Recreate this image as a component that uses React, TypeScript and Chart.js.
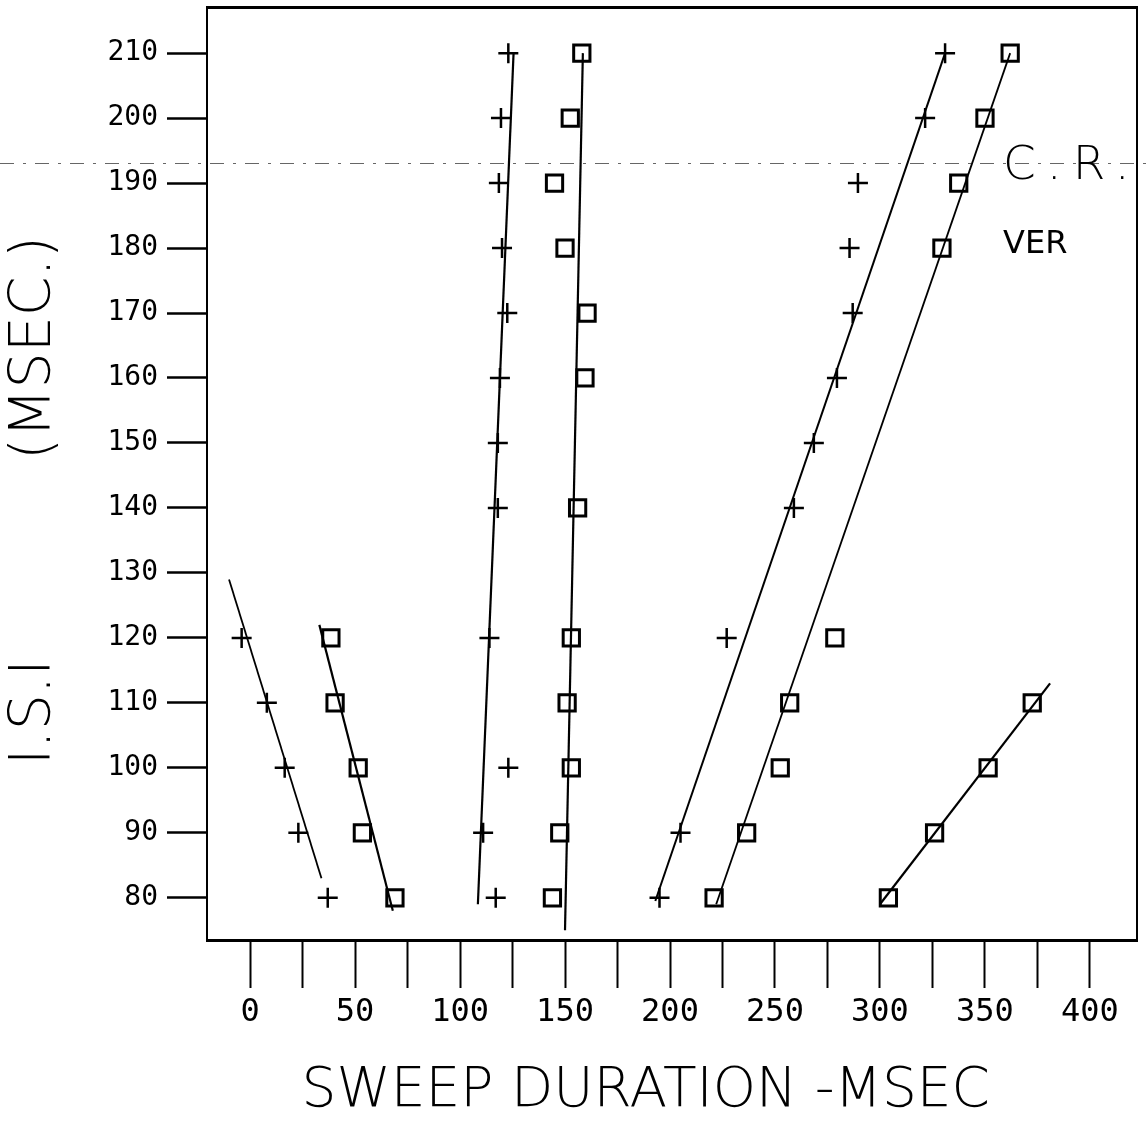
import React, { useEffect, useRef } from 'react';
import { Chart, registerables } from 'chart.js';

Chart.register(...registerables);

// ---- axis ticks ----
const isiTicks = [80, 90, 100, 110, 120, 130, 140, 150, 160, 170, 180, 190, 200, 210];
const sweepTicks = [0, 25, 50, 75, 100, 125, 150, 175, 200, 225, 250, 275, 300, 325, 350, 375, 400];
const sweepLabels = [0, 50, 100, 150, 200, 250, 300, 350, 400];

// ---- group A: crosses, descending (left) ----
const crossA_isi = [120, 110, 100, 90, 80];
const crossA_sweep = [-4, 8, 16.5, 23, 37];
const lineA_isi = [129, 83];
const lineA_sweep = [-10, 34];

// ---- group B: squares, descending ----
const squareB_isi = [120, 110, 100, 90, 80];
const squareB_sweep = [38.5, 40.5, 51.5, 53.5, 69];
const lineB_isi = [122, 78];
const lineB_sweep = [33, 68];

// ---- group C: crosses, near-vertical ~120 ----
const crossC_isi = [210, 200, 190, 180, 170, 160, 150, 140, 120, 100, 90, 80];
const crossC_sweep = [123, 119.5, 118.5, 120, 122.5, 119, 118, 118, 114, 123, 111, 117];
const lineC_isi = [79, 210];
const lineC_sweep = [108.5, 125.5];

// ---- group D: squares, near-vertical ~150 ----
const squareD_isi = [210, 200, 190, 180, 170, 160, 140, 120, 110, 100, 90, 80];
const squareD_sweep = [158, 152.5, 145, 150, 160.5, 159.5, 156, 153, 151, 153, 147.5, 144];
const lineD_isi = [75, 210];
const lineD_sweep = [150, 158.5];

// ---- group E: crosses, ascending ----
const crossE_isi = [210, 200, 190, 180, 170, 160, 150, 140, 120, 90, 80];
const crossE_sweep = [331, 321.5, 289.5, 285.5, 287, 279.5, 268.5, 259, 227, 205, 195];
const lineE_isi = [79.5, 210];
const lineE_sweep = [193, 331];

// ---- group F: squares, ascending ----
const squareF_isi = [210, 200, 190, 180, 120, 110, 100, 90, 80];
const squareF_sweep = [362, 350, 337.5, 329.5, 278.5, 257, 252.5, 236.5, 221];
const lineF_isi = [79, 210];
const lineF_sweep = [222, 362];

// ---- group G: squares, bottom right ----
const squareG_isi = [110, 100, 90, 80];
const squareG_sweep = [372.5, 351.5, 326, 304];
const lineG_isi = [79, 113];
const lineG_sweep = [300, 381];

// ---- annotations ----
const annotationTexts = ['C.R.', 'VER'];
const scanLineIsi = 193.1;

const X_MIN = -20.5;
const X_MAX = 422.4;
const Y_MIN = 73.5;
const Y_MAX = 217.1;

const pts = (xs: number[], ys: number[]) => xs.map((x, i) => ({ x, y: ys[i] }));

const crossSet = (label: string, xs: number[], ys: number[]) => ({
  label,
  data: pts(xs, ys),
  showLine: false,
  pointStyle: 'cross',
  pointRadius: 10,
  pointBorderWidth: 2.5,
  pointBorderColor: '#000',
  borderColor: '#000',
  backgroundColor: '#000',
});

const squareSet = (label: string, xs: number[], ys: number[]) => ({
  label,
  data: pts(xs, ys),
  showLine: false,
  pointStyle: 'rect',
  pointRadius: 11.5,
  pointBorderWidth: 3,
  pointBorderColor: '#000',
  pointBackgroundColor: 'rgba(0,0,0,0)',
  borderColor: '#000',
  backgroundColor: 'rgba(0,0,0,0)',
});

const lineSet = (label: string, xs: number[], ys: number[], w = 2) => ({
  label,
  data: pts(xs, ys),
  showLine: true,
  pointRadius: 0,
  borderWidth: w,
  borderColor: '#000',
  backgroundColor: '#000',
});

const annotationPlugin = {
  id: 'annotations',
  beforeDatasetsDraw(chart: any) {
    const { ctx, scales } = chart;
    const y = Math.round(scales.y.getPixelForValue(scanLineIsi)) + 0.5;
    ctx.save();
    ctx.strokeStyle = '#666';
    ctx.lineWidth = 1;
    ctx.setLineDash([14, 9, 3, 9]);
    ctx.beginPath();
    ctx.moveTo(0, y);
    ctx.lineTo(chart.width, y);
    ctx.stroke();
    ctx.restore();
  },
  afterDatasetsDraw(chart: any) {
    const { ctx, scales } = chart;
    ctx.save();
    ctx.fillStyle = '#000';
    ctx.textBaseline = 'alphabetic';
    ctx.textAlign = 'left';
    const x = scales.x.getPixelForValue(358.6);
    ctx.font = '200 47px "DejaVu Sans"';
    try { (ctx as any).letterSpacing = '11px'; } catch (e) {}
    ctx.fillText(annotationTexts[0], x, scales.y.getPixelForValue(190.6));
    try { (ctx as any).letterSpacing = '0px'; } catch (e) {}
    ctx.font = '32px "DejaVu Sans"';
    ctx.fillText(annotationTexts[1], x, scales.y.getPixelForValue(179.2));
    ctx.restore();
  },
};

const zeroPad = (s: any) => {
  s.paddingTop = 0;
  s.paddingBottom = 0;
  s.paddingLeft = 0;
  s.paddingRight = 0;
};

export default function App() {
  const canvasRef = useRef<HTMLCanvasElement | null>(null);

  useEffect(() => {
    const canvas = canvasRef.current;
    if (!canvas) return;
    const chart = new Chart(canvas, {
      type: 'scatter',
      data: {
        datasets: [
          lineSet('fit A', lineA_sweep, lineA_isi, 1.8),
          lineSet('fit B', lineB_sweep, lineB_isi, 2.2),
          lineSet('fit C', lineC_sweep, lineC_isi, 2.2),
          lineSet('fit D', lineD_sweep, lineD_isi, 2.2),
          lineSet('fit E', lineE_sweep, lineE_isi, 2),
          lineSet('fit F', lineF_sweep, lineF_isi, 1.8),
          lineSet('fit G', lineG_sweep, lineG_isi, 2.2),
          crossSet('A', crossA_sweep, crossA_isi),
          squareSet('B', squareB_sweep, squareB_isi),
          crossSet('C', crossC_sweep, crossC_isi),
          squareSet('D', squareD_sweep, squareD_isi),
          crossSet('E', crossE_sweep, crossE_isi),
          squareSet('F', squareF_sweep, squareF_isi),
          squareSet('G', squareG_sweep, squareG_isi),
        ] as any,
      },
      options: {
        animation: false,
        responsive: false,
        devicePixelRatio: 1,
        layout: { autoPadding: false, padding: { left: 0, top: 7, right: 10, bottom: 0 } },
        plugins: {
          legend: { display: false },
          tooltip: { enabled: false },
        },
        scales: {
          x: {
            type: 'linear',
            position: 'bottom',
            min: X_MIN,
            max: X_MAX,
            afterBuildTicks: (s: any) => {
              s.ticks = sweepTicks.map((v) => ({ value: v }));
            },
            afterFit: (s: any) => {
              s.height = 190;
              zeroPad(s);
            },
            grid: {
              display: true,
              drawOnChartArea: false,
              drawTicks: true,
              tickLength: 48,
              tickWidth: 2,
              tickColor: '#000',
              color: '#000',
            },
            border: { display: true, color: '#000', width: 3 },
            ticks: {
              autoSkip: false,
              maxRotation: 0,
              minRotation: 0,
              padding: 5,
              color: '#000',
              font: { family: '"DejaVu Sans Mono"', size: 32 },
              callback: (v: any) => (sweepLabels.includes(Number(v)) ? String(v) : ''),
            },
            title: {
              display: true,
              text: 'SWEEP DURATION -MSEC   ',
              color: '#000',
              font: { family: '"DejaVu Sans"', size: 55, weight: '200' as any },
              padding: { top: 0, bottom: 5 },
            },
          },
          y: {
            type: 'linear',
            position: 'left',
            min: Y_MIN,
            max: Y_MAX,
            afterBuildTicks: (s: any) => {
              s.ticks = isiTicks.map((v) => ({ value: v }));
            },
            afterFit: (s: any) => {
              s.width = 207;
              zeroPad(s);
            },
            grid: {
              display: true,
              drawOnChartArea: false,
              drawTicks: true,
              tickLength: 40,
              tickWidth: 2.5,
              tickColor: '#000',
              color: '#000',
            },
            border: { display: true, color: '#000', width: 2 },
            ticks: {
              autoSkip: false,
              padding: 9,
              color: '#000',
              font: { family: '"DejaVu Sans Mono"', size: 28 },
            },
            title: {
              display: true,
              text: 'I.S.I           (MSEC.)   ',
              color: '#000',
              font: { family: '"DejaVu Sans"', size: 57, weight: '200' as any },
              padding: { top: 1, bottom: 0 },
            },
          },
          xTop: {
            type: 'linear',
            position: 'top',
            min: X_MIN,
            max: X_MAX,
            afterFit: (s: any) => {
              s.height = 0;
              zeroPad(s);
            },
            grid: { display: false, drawTicks: false },
            border: { display: true, color: '#000', width: 3 },
            ticks: { display: false },
          },
          yRight: {
            type: 'linear',
            position: 'right',
            min: Y_MIN,
            max: Y_MAX,
            afterFit: (s: any) => {
              s.width = 0;
              zeroPad(s);
            },
            grid: { display: false, drawTicks: false },
            border: { display: true, color: '#000', width: 2 },
            ticks: { display: false },
          },
        },
      } as any,
      plugins: [annotationPlugin],
    });
    return () => chart.destroy();
  }, []);

  return (
    <div style={{ position: 'absolute', left: 0, top: 0, width: 1147, height: 1130, background: '#fff' }}>
      <canvas ref={canvasRef} width={1147} height={1130} style={{ display: 'block' }} />
    </div>
  );
}
